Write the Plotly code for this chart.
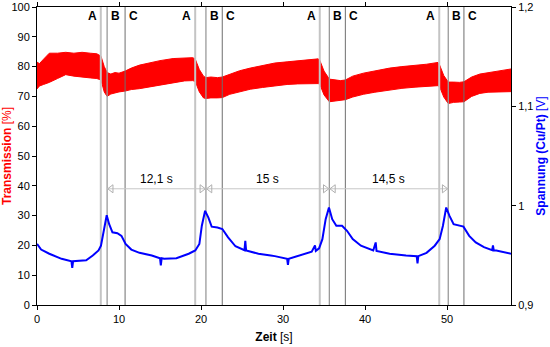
import plotly.graph_objects as go

# ---------------- data ----------------
# Transmission band (red) envelope [%]
t_red = [0.0, 0.3, 0.8, 1.5, 2.5, 3.5, 4.5, 5.5, 6.5, 7.3, 7.8, 8.2, 8.55, 9.0, 9.5, 10.0,
         10.75, 11.5, 12.5, 13.8, 15.0, 16.6, 18.0, 19.0, 19.3, 19.8, 20.3, 20.6, 21.2, 22.0,
         22.6, 23.5, 24.7, 26.0, 27.5, 29.0, 30.5, 31.8, 33.0, 34.3, 34.5, 35.0, 35.65, 36.3,
         37.0, 37.6, 38.5, 39.8, 41.2, 43.0, 44.5, 46.1, 47.5, 48.9, 49.1, 49.6, 50.15, 50.8,
         51.5, 52.06, 53.0, 54.0, 55.0, 56.5, 57.8]
red_upper = [81.5, 81.0, 82.5, 84.5, 84.5, 84.8, 84.5, 84.8, 84.5, 84.3, 83.5, 80.0, 78.0, 77.5,
             78.0, 77.8, 78.5, 79.5, 80.5, 81.4, 82.0, 82.7, 83.0, 83.0, 82.5, 79.0, 76.8, 76.3,
             76.5, 76.3, 76.5, 77.5, 78.6, 79.5, 80.3, 81.2, 81.6, 82.0, 82.3, 82.6, 82.0, 78.5,
             75.8, 75.5, 75.3, 75.5, 76.8, 77.8, 78.6, 79.5, 80.0, 80.3, 80.8, 81.4, 80.5, 77.0,
             74.8, 74.8, 74.7, 74.9, 76.5, 77.5, 78.0, 78.8, 79.2]
red_lower = [72.5, 73.5, 74.0, 74.7, 76.0, 77.3, 76.8, 76.4, 76.2, 76.0, 75.5, 71.5, 70.0, 70.8,
             71.2, 71.5, 71.8, 72.3, 72.6, 73.2, 74.0, 74.7, 75.2, 75.3, 75.0, 71.5, 69.5, 69.3,
             69.5, 69.5, 69.6, 70.7, 71.6, 72.4, 73.0, 73.6, 74.0, 74.2, 74.3, 74.3, 74.0, 70.5,
             68.2, 68.5, 68.7, 68.9, 69.8, 70.7, 71.4, 72.2, 72.7, 73.1, 73.4, 73.6, 73.2, 69.8,
             67.6, 68.0, 68.1, 68.2, 70.0, 71.0, 71.4, 71.5, 71.6]

# Voltage (blue) [V]
t_blue = [0.0, 0.5, 1.5, 3.0, 4.2, 4.3, 4.4, 6.0, 6.8, 7.5, 7.8, 8.2, 8.5, 8.8, 9.2, 9.8, 10.3,
          10.8, 11.5, 12.5, 14.0, 15.0, 15.1, 15.2, 15.5, 17.0, 18.5, 19.3, 19.8, 20.1, 20.5,
          20.9, 21.3, 22.0, 22.6, 23.3, 24.2, 25.3, 25.4, 25.5, 27.0, 28.5, 29.0, 30.5, 30.6,
          30.7, 32.0, 33.5, 33.9, 34.0, 34.4, 34.8, 35.2, 35.6, 36.0, 36.5, 37.2, 37.8, 38.5,
          39.5, 41.0, 41.3, 41.4, 43.0, 45.0, 46.3, 46.4, 46.5, 47.5, 48.5, 49.1, 49.5, 49.9,
          50.3, 50.8, 51.5, 52.0, 52.7, 53.5, 54.5, 55.5, 55.6, 55.7, 56.0, 57.8]
v_blue = [0.9615, 0.9558, 0.9516, 0.9465, 0.9440, 0.9375, 0.9440, 0.9450, 0.9498, 0.9549, 0.9597,
          0.9780, 0.9903, 0.9813, 0.9732, 0.9723, 0.9696, 0.9615, 0.9558, 0.9525, 0.9498, 0.9470,
          0.9400, 0.9470, 0.9465, 0.9471, 0.9516, 0.9549, 0.9615, 0.9798, 0.9948, 0.9879, 0.9789,
          0.9780, 0.9765, 0.9681, 0.9591, 0.9552, 0.9645, 0.9549, 0.9516, 0.9498, 0.9492, 0.9465,
          0.9405, 0.9465, 0.9498, 0.9537, 0.9600, 0.9545, 0.9570, 0.9663, 0.9864, 0.9981, 0.9864,
          0.9798, 0.9798, 0.9747, 0.9663, 0.9597, 0.9549, 0.9630, 0.9545, 0.9516, 0.9498, 0.9492,
          0.9420, 0.9492, 0.9525, 0.9597, 0.9663, 0.9798, 0.9981, 0.9897, 0.9813, 0.9798, 0.9789,
          0.9696, 0.9630, 0.9582, 0.9552, 0.9600, 0.9550, 0.9549, 0.9516]

# Marker lines A, B, C [s]
t_A = [7.78, 19.29, 34.48, 49.05]
t_B = [8.55, 20.60, 35.65, 50.15]
t_C = [10.74, 22.59, 37.60, 52.06]
durations = ["12,1 s", "15 s", "14,5 s"]
arrow_level = 39  # [%]

# ---------------- style ----------------
FONT = "Liberation Sans, Arial, sans-serif"
RED = "#ff0000"
BLUE = "#0000ff"
head_off = 0.5

fig = go.Figure()

# red band
fig.add_trace(go.Scatter(x=t_red, y=red_lower, mode="lines", line=dict(color=RED, width=1),
                         showlegend=False, hoverinfo="skip"))
fig.add_trace(go.Scatter(x=t_red, y=red_upper, mode="lines", line=dict(color=RED, width=1),
                         fill="tonexty", fillcolor=RED, showlegend=False, hoverinfo="skip"))

# vertical marker lines
def vlines(ts):
    xs, ys = [], []
    for t in ts:
        xs += [t, t, None]
        ys += [0, 100, None]
    return xs, ys

for ts, col, w in [(t_A, "#c4c4c4", 2), (t_B, "#9a9a9a", 1.3), (t_C, "#6e6e6e", 1)]:
    xs, ys = vlines(ts)
    fig.add_trace(go.Scatter(x=xs, y=ys, mode="lines", line=dict(color=col, width=w),
                             showlegend=False, hoverinfo="skip"))

# dimension arrows
fig.add_trace(go.Scatter(x=[t_B[0], t_B[-1]], y=[arrow_level, arrow_level], mode="lines",
                         line=dict(color="#c8c8c8", width=1), showlegend=False, hoverinfo="skip"))
fig.add_trace(go.Scatter(x=[t + head_off for t in t_B[:-1]], y=[arrow_level] * (len(t_B) - 1),
                         mode="markers", marker=dict(symbol="triangle-left-open", size=7,
                                                     color="#b0b0b0", line=dict(width=1)),
                         showlegend=False, hoverinfo="skip"))
fig.add_trace(go.Scatter(x=[t - head_off for t in t_B[1:]], y=[arrow_level] * (len(t_B) - 1),
                         mode="markers", marker=dict(symbol="triangle-right-open", size=7,
                                                     color="#b0b0b0", line=dict(width=1)),
                         showlegend=False, hoverinfo="skip"))

# blue voltage line
fig.add_trace(go.Scatter(x=t_blue, y=v_blue, mode="lines", yaxis="y2",
                         line=dict(color=BLUE, width=2), showlegend=False, hoverinfo="skip"))

annotations = []
for a, b, c in zip(t_A, t_B, t_C):
    annotations.append(dict(x=a, y=97, text="<b>A</b>", showarrow=False, xanchor="right",
                            xshift=-2, font=dict(size=12, color="black", family=FONT)))
    annotations.append(dict(x=b, y=97, text="<b>B</b>", showarrow=False, xanchor="left",
                            xshift=2, font=dict(size=12, color="black", family=FONT)))
    annotations.append(dict(x=c, y=97, text="<b>C</b>", showarrow=False, xanchor="left",
                            xshift=2, font=dict(size=12, color="black", family=FONT)))
for i, d in enumerate(durations):
    annotations.append(dict(x=(t_B[i] + t_B[i + 1]) / 2, y=arrow_level, text=d, showarrow=False,
                            yanchor="bottom", yshift=1,
                            font=dict(size=12, color="black", family=FONT)))

fig.update_layout(
    width=550, height=347,
    margin=dict(l=37, r=39, t=7, b=42),
    paper_bgcolor="white", plot_bgcolor="white",
    separators=",.",
    font=dict(family=FONT, size=11, color="black"),
    annotations=annotations,
    xaxis=dict(range=[0, 57.8], dtick=10, tick0=0, showgrid=False, zeroline=False,
               showline=True, linecolor="black", linewidth=1, mirror="ticks",
               ticks="outside", ticklen=4, tickcolor="black", automargin=False,
               ticklabeloverflow="allow",
               title=dict(text="<b>Zeit</b> [s]", font=dict(size=12, family=FONT), standoff=8)),
    yaxis=dict(range=[0, 100], dtick=10, tick0=0, showgrid=False, zeroline=False,
               showline=True, linecolor="black", linewidth=1, automargin=False,
               ticks="outside", ticklen=4, tickcolor="black", ticklabeloverflow="allow",
               title=dict(text="<b>Transmission</b> [%]", font=dict(size=12, color=RED, family=FONT),
                          standoff=1)),
    yaxis2=dict(range=[0.9, 1.2], dtick=0.1, tick0=0.9, overlaying="y", side="right",
                showgrid=False, zeroline=False, showline=True, linecolor="black", linewidth=1,
                ticks="outside", ticklen=4, tickcolor="black", automargin=False,
                ticklabeloverflow="allow",
                title=dict(text="<b>Spannung (Cu/Pt)</b> [V]", font=dict(size=12, color=BLUE, family=FONT),
                           standoff=4)),
)

fig.write_html("out.html")
